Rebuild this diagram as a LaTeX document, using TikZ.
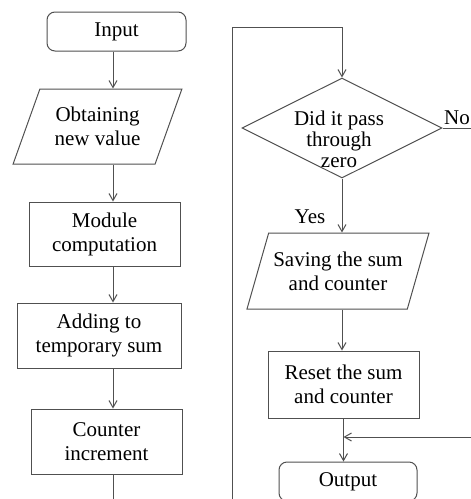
\documentclass[tikz,border=0pt]{standalone}
\usepackage{fontspec}
\setmainfont{Liberation Serif}
\definecolor{linegray}{HTML}{505050}
\usetikzlibrary{arrows.meta,positioning,shapes.geometric}

\begin{document}
\begin{tikzpicture}[x=1pt,y=-1pt,
  box/.style={draw=linegray,line width=1pt,align=center,inner sep=2pt,font=\fontsize{21}{24}\selectfont},
  term/.style={box,rounded corners=8pt},
  io/.style={box,trapezium,trapezium left angle=64,trapezium right angle=116,trapezium stretches=true},
  decide/.style={draw=linegray,line width=1pt,diamond,inner sep=0pt},
  ln/.style={draw=linegray,line width=1pt},
  arr/.style={ln,-{Straight Barb[length=7pt,width=8pt]}},
  lbl/.style={font=\fontsize{21}{24}\selectfont,inner sep=0pt}]
  \useasboundingbox (0,0) rectangle (471,499);
  \clip (0,0) rectangle (471,499);

  % Left column
  \node[term,minimum width=139,minimum height=39] (input) at (116.5,31.5) {Input};
  \node[io,minimum width=169,minimum height=75] (obtain) at (97.5,126.5) {Obtaining\\new value};
  \node[box,minimum width=151,minimum height=64] (module) at (104.5,234) {Module\\computation};
  \node[box,minimum width=164,minimum height=65] (adding) at (99,335.5) {Adding to\\temporary sum};
  \node[box,minimum width=151,minimum height=65] (counter) at (106.5,441.5) {Counter\\increment};
  \coordinate (lx) at (113,0);
  \coordinate (cntend) at (113,505);
  \draw[arr] (lx |- input.south) -- (lx |- obtain.north);
  \draw[arr] (lx |- obtain.south) -- (lx |- module.north);
  \draw[arr] (lx |- module.south) -- (lx |- adding.north);
  \draw[arr] (lx |- adding.south) -- (lx |- counter.north);
  \draw[ln] (lx |- counter.south) -- (cntend);

  % Right column
  \node[decide,minimum width=200,minimum height=100] (dia) at (342,128) {};
  \node[lbl,align=center,font=\fontsize{21}{21}\selectfont] (dtext) at (339,139) {Did it pass\\through\\zero};
  \node[io,minimum width=182,minimum height=76] (saving) at (338,271) {Saving the sum\\and counter};
  \node[box,minimum width=151,minimum height=67] (reset) at (343.5,384.5) {Reset the sum\\and counter};
  \node[term,minimum width=138,minimum height=39] (output) at (348,481.5) {Output};
  \node[lbl,anchor=west] (no) at (444,118) {No};
  \node[lbl] (yes) at (310,217) {Yes};

  % Loop back and branches
  \coordinate (loopin) at (232,505);
  \coordinate (looptop) at (232,27);
  \coordinate (noend) at (480,128);
  \coordinate (backin) at (480,437);
  \draw[arr] (loopin) -- (looptop) -| (dia.north);
  \draw[arr] (dia.south) -- (dia.south |- saving.north);
  \draw[arr] (dia.south |- saving.south) -- (dia.south |- reset.north);
  \draw[arr] (reset.south) -- (reset.south |- output.north);
  \draw[ln] (dia.east) -- (noend);
  \draw[arr] (backin) -- (reset.south |- backin);
\end{tikzpicture}
\end{document}
